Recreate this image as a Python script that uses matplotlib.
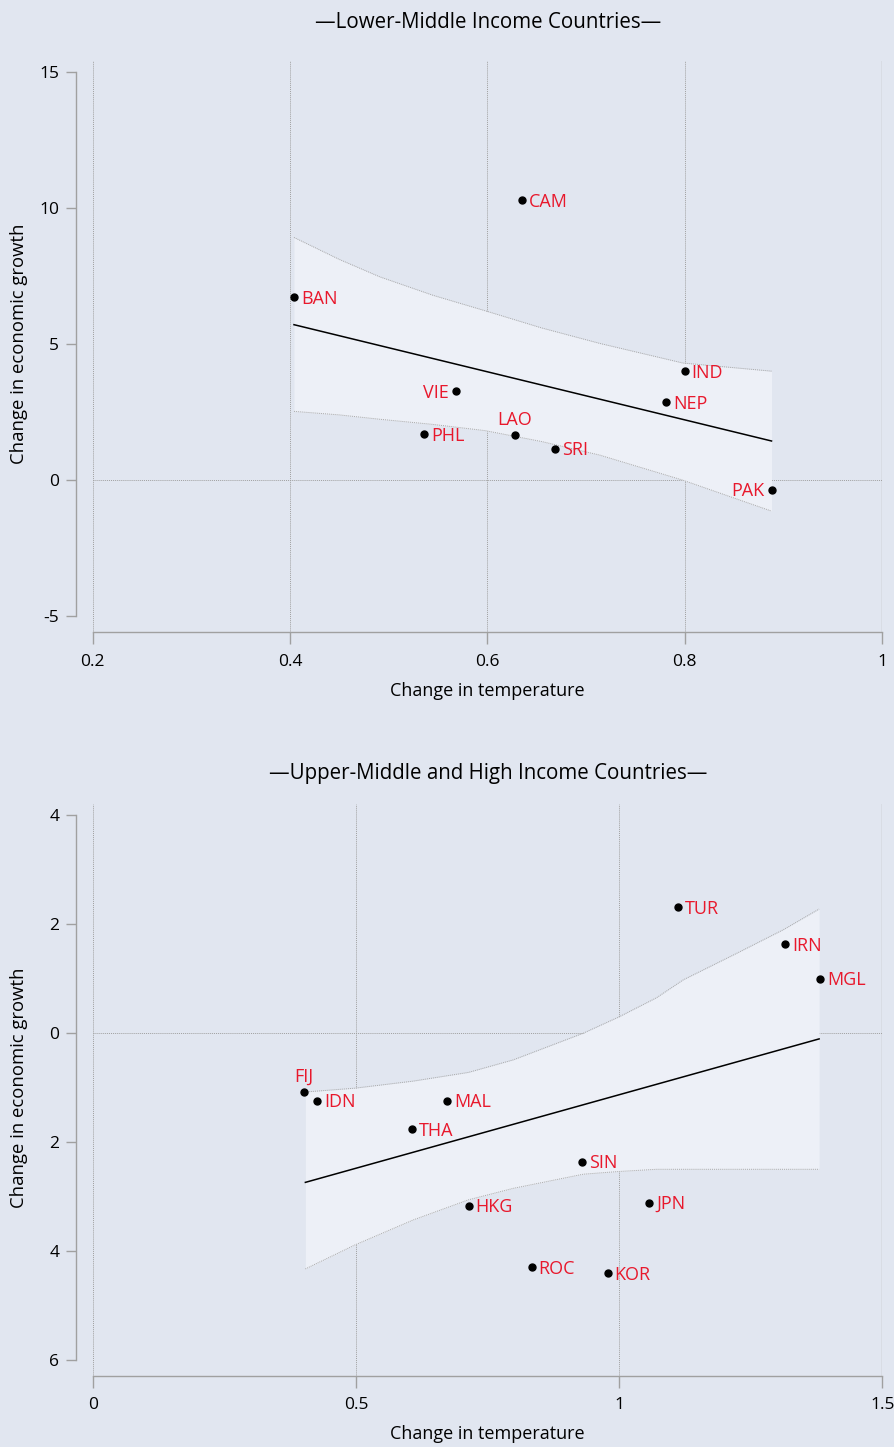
import numpy as np
import matplotlib
matplotlib.use("Agg")
import matplotlib.pyplot as plt

plt.rcParams['font.family'] = ['Open Sans', 'DejaVu Sans']

BG = '#e1e6f0'
BAND = '#edf0f7'
RED = '#e8182c'
GRID = '#a0a0a0'
SPINE = '#a0a0a0'

# Lower-middle income countries
low_codes = ['BAN', 'CAM', 'IND', 'VIE', 'NEP', 'LAO', 'PHL', 'SRI', 'PAK']
low_temp = [0.404, 0.635, 0.800, 0.568, 0.781, 0.628, 0.536, 0.669, 0.888]
low_growth = [6.73, 10.30, 4.00, 3.27, 2.87, 1.66, 1.70, 1.16, -0.35]
low_fit_x = [0.404, 0.888]
low_fit_y = [5.72, 1.44]
low_band_x = [0.404, 0.450, 0.491, 0.545, 0.598, 0.655, 0.714, 0.798, 0.888]
low_band_hi = [8.93, 8.12, 7.48, 6.80, 6.23, 5.60, 5.03, 4.31, 4.01]
low_band_lo = [2.53, 2.40, 2.24, 2.05, 1.82, 1.42, 0.92, 0.00, -1.14]
low_xticks = [0.2, 0.4, 0.6, 0.8, 1.0]
low_xticklabels = ['0.2', '0.4', '0.6', '0.8', '1']
low_yticks = [-5, 0, 5, 10, 15]
low_yticklabels = ['-5', '0', '5', '10', '15']

# Upper-middle and high income countries
high_codes = ['TUR', 'IRN', 'MGL', 'FIJ', 'IDN', 'MAL', 'THA', 'SIN', 'JPN', 'HKG', 'ROC', 'KOR']
high_temp = [1.111, 1.315, 1.382, 0.401, 0.427, 0.673, 0.607, 0.930, 1.057, 0.714, 0.834, 0.978]
high_growth = [2.31, 1.63, 1.00, -1.08, -1.24, -1.24, -1.76, -2.36, -3.11, -3.17, -4.30, -4.41]
high_fit_x = [0.404, 1.380]
high_fit_y = [-2.74, -0.105]
high_band_x = [0.404, 0.498, 0.609, 0.714, 0.799, 0.932, 1.000, 1.071, 1.122, 1.220, 1.312, 1.380]
high_band_hi = [-1.08, -1.01, -0.88, -0.72, -0.49, 0.00, 0.30, 0.65, 0.98, 1.45, 1.90, 2.28]
high_band_lo = [-4.33, -3.89, -3.43, -3.06, -2.85, -2.59, -2.54, -2.50, -2.50, -2.50, -2.50, -2.50]
high_xticks = [0, 0.5, 1.0, 1.5]
high_xticklabels = ['0', '0.5', '1', '1.5']
high_yticks = [-6, -4, -2, 0, 2, 4]
high_yticklabels = ['6', '4', '2', '0', '2', '4']

# label placement: 'r' right of dot, 'l' left, 'u' above
low_pos = {'VIE': 'l', 'PAK': 'l', 'LAO': 'u'}
high_pos = {'FIJ': 'u'}


def draw_panel(ax, codes, xs, ys, fit_x, fit_y, bx, bhi, blo,
               xticks, xticklabels, yticks, yticklabels, xlim, ylim, pos):
    ax.set_facecolor(BG)
    ax.set_xlim(*xlim)
    ax.set_ylim(*ylim)

    # dotted grid, solid edge on the right
    for x in xticks[:-1]:
        ax.axvline(x, color=GRID, lw=0.7, ls=(0, (1, 1)), zorder=1)
    ax.axvline(xticks[-1], color='#b4b4b4', lw=1.0, zorder=1)
    ax.axhline(0, color=GRID, lw=0.7, ls=(0, (1, 1)), zorder=1)

    ax.fill_between(bx, blo, bhi, color=BAND, lw=0, zorder=2)
    ax.plot(bx, bhi, color='#a8a8a8', lw=0.7, ls=(0, (1, 1)), zorder=3)
    ax.plot(bx, blo, color='#a8a8a8', lw=0.7, ls=(0, (1, 1)), zorder=3)
    ax.plot(fit_x, fit_y, color='black', lw=1.1, zorder=4)

    ax.plot(xs, ys, 'o', color='black', ms=5, zorder=5)
    for c, x, y in zip(codes, xs, ys):
        p = pos.get(c, 'r')
        if p == 'r':
            ax.annotate(c, (x, y), xytext=(5, -4.8), textcoords='offset points',
                        ha='left', va='baseline', color=RED, fontsize=13, zorder=6)
        elif p == 'l':
            ax.annotate(c, (x, y), xytext=(-5, -4.8), textcoords='offset points',
                        ha='right', va='baseline', color=RED, fontsize=13, zorder=6)
        else:
            ax.annotate(c, (x, y), xytext=(0, 7.5), textcoords='offset points',
                        ha='center', va='baseline', color=RED, fontsize=13, zorder=6)

    for s in ['top', 'right']:
        ax.spines[s].set_visible(False)
    ax.spines['left'].set_position(('outward', 12))
    ax.spines['left'].set_bounds(yticks[0], yticks[-1])
    ax.spines['bottom'].set_bounds(xticks[0], xticks[-1])
    for s in ['left', 'bottom']:
        ax.spines[s].set_color(SPINE)
        ax.spines[s].set_linewidth(1.0)

    ax.set_xticks(xticks)
    ax.set_xticklabels(xticklabels)
    ax.set_yticks(yticks)
    ax.set_yticklabels(yticklabels)
    ax.tick_params(axis='x', length=8.5, width=1.0, color=SPINE, pad=7, labelsize=12.5)
    ax.tick_params(axis='y', length=7, width=1.0, color=SPINE, pad=5, labelsize=12.5)


fig = plt.figure(figsize=(8.94, 14.47), dpi=100, facecolor=BG)

ax1 = fig.add_axes([0.1037, 0.5632, 0.8829, 0.3946])
draw_panel(ax1, low_codes, low_temp, low_growth, low_fit_x, low_fit_y,
           low_band_x, low_band_hi, low_band_lo,
           low_xticks, low_xticklabels, low_yticks, low_yticklabels,
           (0.2, 1.0), (-5.59, 15.42), low_pos)

ax2 = fig.add_axes([0.1037, 0.0493, 0.8832, 0.3951])
draw_panel(ax2, high_codes, high_temp, high_growth, high_fit_x, high_fit_y,
           high_band_x, high_band_hi, high_band_lo,
           high_xticks, high_xticklabels, high_yticks, high_yticklabels,
           (0.0, 1.5), (-6.29, 4.21), high_pos)

fig.text(488 / 894, 1 - 22 / 1447, '\u2014Lower-Middle Income Countries\u2014',
         ha='center', va='center', fontsize=14.8)
fig.text(488 / 894, 1 - 773 / 1447, '\u2014Upper-Middle and High Income Countries\u2014',
         ha='center', va='center', fontsize=14.8)

fig.text(487 / 894, 1 - 691 / 1447, 'Change in temperature', ha='center', va='center', fontsize=13)
fig.text(487 / 894, 1 - 1434 / 1447, 'Change in temperature', ha='center', va='center', fontsize=13)
fig.text(19 / 894, 1 - 344 / 1447, 'Change in economic growth', ha='center', va='center',
         rotation=90, fontsize=13.3)
fig.text(19 / 894, 1 - 1088 / 1447, 'Change in economic growth', ha='center', va='center',
         rotation=90, fontsize=13.3)

fig.savefig('out.png', dpi=100, facecolor=BG)
